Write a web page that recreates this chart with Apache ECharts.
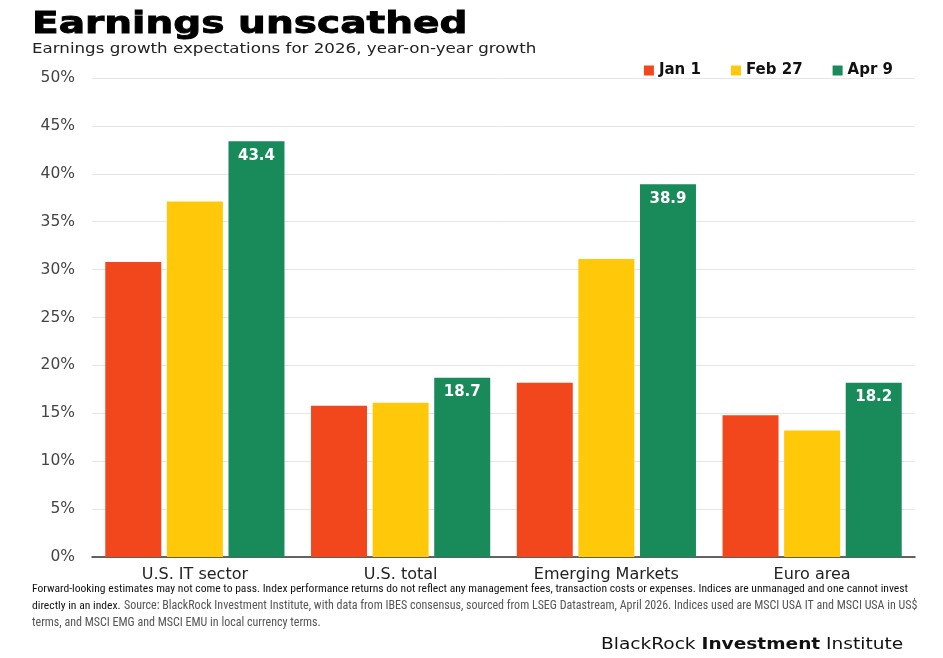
<!DOCTYPE html>
<html><head><meta charset="utf-8">
<script src="https://cdn.jsdelivr.net/npm/echarts@6/dist/echarts.min.js"></script>
<style>html,body{margin:0;padding:0;background:#fff}#c{width:943px;height:658px}</style>
</head><body><div id="c"></div>
<script>
const categories = ['U.S. IT sector', 'U.S. total', 'Emerging Markets', 'Euro area'];
const seriesNames = ['Jan 1', 'Feb 27', 'Apr 9'];
const jan1 = [30.8, 15.8, 18.2, 14.8];
const feb27 = [37.1, 16.1, 31.1, 13.2];
const apr9 = [43.4, 18.7, 38.9, 18.2];
const colors = ['#F2471C', '#FFC90A', '#198A5A'];

const F = '"DejaVu Sans"';
const NF = '"Roboto Condensed", sans-serif';
const chart = echarts.init(document.getElementById('c'));
const mk = (name, data, color, label) => ({
  name, type: 'bar', data, barWidth: 56, barGap: '10%',
  itemStyle: { color },
  label: label ? { show: true, position: 'insideTop', distance: 7, color: '#fff', fontFamily: F, fontWeight: 'bold', fontSize: 15, formatter: p => p.value.toFixed(1) } : { show: false }
});
chart.setOption({
  animation: false,
  legend: {
    right: 45, top: 58, itemWidth: 10, itemHeight: 10, itemGap: 30, icon: 'rect',
    textStyle: { fontFamily: F, fontWeight: 'bold', fontSize: 15, color: '#111' },
    data: seriesNames
  },
  grid: { left: 92, right: 28, top: 78, bottom: 101 },
  xAxis: {
    type: 'category', data: categories,
    axisLine: { lineStyle: { color: '#333', width: 1.5 } }, axisTick: { show: false },
    axisLabel: { fontFamily: F, fontSize: 16, color: '#222', margin: 10 }
  },
  yAxis: {
    type: 'value', min: 0, max: 50, interval: 5,
    axisLabel: { formatter: '{value}%', fontFamily: F, fontSize: 15.5, color: '#444', margin: 17 },
    splitLine: { lineStyle: { color: '#e6e6e6' } }
  },
  series: [mk(seriesNames[0], jan1, colors[0], false), mk(seriesNames[1], feb27, colors[1], false), mk(seriesNames[2], apr9, colors[2], true)],
  graphic: [
    { type: 'text', x: 32, y: 9, scaleX: 1.26, originX: 0, style: { text: 'Earnings unscathed', font: 'bold 31px "DejaVu Sans"', fill: '#000', stroke: '#000', lineWidth: 0.9, textVerticalAlign: 'top' } },
    { type: 'text', x: 32, y: 42, scaleX: 1.15, originX: 0, style: { text: 'Earnings growth expectations for 2026, year-on-year growth', font: '14.5px "DejaVu Sans"', fill: '#222', textVerticalAlign: 'top' } },
    { type: 'text', left: 32, top: 583, style: { text: 'Forward-looking estimates may not come to pass. Index performance returns do not reflect any management fees, transaction costs or expenses. Indices are unmanaged and one cannot invest', font: '11.6px ' + NF, fill: '#111' } },
    { type: 'text', left: 32, top: 600, style: { rich: { a: { font: '11.6px ' + NF, fill: '#111' }, b: { font: '12px ' + NF, fill: '#555' } }, text: '{a|directly in an index.} {b|Source: BlackRock Investment Institute, with data from IBES consensus, sourced from LSEG Datastream, April 2026. Indices used are MSCI USA IT and MSCI USA in US$}' } },
    { type: 'text', left: 32, top: 617, style: { text: 'terms, and MSCI EMG and MSCI EMU in local currency terms.', font: '12px ' + NF, fill: '#555' } },
    { type: 'text', x: 601, y: 637, scaleX: 1.16, originX: 0, style: { rich: { a: { font: '16px "DejaVu Sans"', fill: '#111' }, b: { font: 'bold 16px "DejaVu Sans"', fill: '#111' } }, text: '{a|BlackRock }{b|Investment}{a| Institute}', textVerticalAlign: 'top' } }
  ]
});
</script></body></html>
